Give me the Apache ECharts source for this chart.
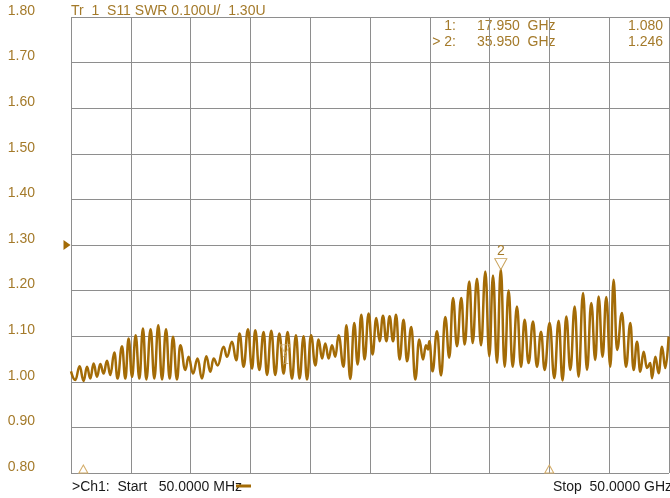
<!DOCTYPE html>
<html>
<head>
<meta charset="utf-8">
<script src="https://cdn.jsdelivr.net/npm/echarts@6/dist/echarts.min.js"></script>
<style>
html,body{margin:0;padding:0;background:#fff;}
#chart{width:670px;height:498px;}
</style>
</head>
<body>
<div id="chart"></div>
<script>
// Frequency (GHz) of each trace extremum
var freqGHz = [0.05,0.41,0.77,1.10,1.39,1.66,1.94,2.22,2.50,2.77,3.06,3.33,3.67,3.94,4.31,4.59,4.86,5.15,5.45,5.76,
6.06,6.34,6.70,7.01,7.34,7.65,7.99,8.29,8.57,8.90,9.18,9.60,9.87,10.24,10.62,10.99,11.35,11.69,11.96,12.30,
12.80,13.08,13.50,13.86,14.13,14.47,14.83,15.17,15.44,15.78,16.14,16.42,16.78,17.11,17.45,17.81,18.14,18.51,18.84,19.14,
19.48,19.76,20.10,20.46,20.73,21.02,21.29,21.57,21.85,22.13,22.40,22.82,23.05,23.38,23.71,23.99,24.30,24.57,24.91,25.24,
25.55,25.83,26.11,26.39,26.66,26.95,27.20,27.50,27.83,28.12,28.47,28.81,29.14,29.45,29.70,29.87,29.98,30.25,30.62,30.96,
31.31,31.65,31.96,32.29,32.65,32.93,33.32,33.60,33.96,34.30,34.66,34.99,35.30,35.63,35.95,36.27,36.60,36.94,37.30,37.64,
37.94,38.27,38.64,38.97,39.31,39.61,40.03,40.42,40.78,41.11,41.42,41.76,42.12,42.45,42.82,43.15,43.51,43.84,44.12,44.45,
44.76,45.10,45.37,45.66,46.07,46.41,46.77,47.04,47.33,47.60,47.88,48.16,48.44,48.58,48.86,49.13,49.42,49.69,49.97];
// SWR at each of those frequencies
var swr = [1.023,1.004,1.034,1.002,1.033,1.007,1.040,1.011,1.039,1.018,1.046,1.015,1.064,1.007,1.078,1.007,1.095,1.011,1.102,1.007,
1.117,1.005,1.115,1.007,1.124,1.005,1.115,1.007,1.099,1.005,1.080,1.026,1.055,1.018,1.051,1.007,1.056,1.022,1.051,1.036,
1.077,1.055,1.088,1.047,1.106,1.033,1.115,1.029,1.113,1.026,1.109,1.015,1.112,1.015,1.106,1.018,1.109,1.007,1.102,1.007,
1.100,1.005,1.102,1.036,1.093,1.051,1.084,1.051,1.080,1.055,1.102,1.033,1.124,1.006,1.129,1.038,1.147,1.049,1.150,1.060,
1.140,1.089,1.145,1.089,1.144,1.089,1.147,1.049,1.136,1.045,1.120,1.005,1.093,1.049,1.080,1.071,1.089,1.023,1.111,1.014,
1.142,1.053,1.184,1.078,1.184,1.082,1.220,1.085,1.226,1.080,1.242,1.056,1.233,1.042,1.246,1.033,1.200,1.033,1.165,1.033,
1.136,1.041,1.132,1.033,1.110,1.026,1.129,1.008,1.134,1.003,1.143,1.026,1.165,1.011,1.195,1.026,1.173,1.048,1.187,1.055,
1.186,1.033,1.224,1.070,1.151,1.033,1.129,1.026,1.088,1.022,1.066,1.030,1.041,1.008,1.055,1.019,1.077,1.030,1.099];
var markerFreq = [17.95, 35.95];
var markerSwr = [1.080, 1.246];
var yTicks = [0.80,0.90,1.00,1.10,1.20,1.30,1.40,1.50,1.60,1.70,1.80];
var refLevel = 1.30;
var stimFlags = [1.08, 40.0];
var startGHz = 0.05, stopGHz = 50;

var GOLD = '#a47a2a';
var TRACE = '#a36b06';
var FONT = 'Liberation Sans, Arial, sans-serif';

var chart = echarts.init(document.getElementById('chart'), null, {renderer:'canvas'});
var data = freqGHz.map(function(f,i){return [f, swr[i]];});

var mp = [];
mp.push({coord:[markerFreq[1], markerSwr[1]], symbol:'triangle', symbolRotate:180, symbolSize:[12,11], symbolOffset:[0,-5.5],
  itemStyle:{color:'rgba(255,255,255,0)', borderColor:'#c9a25a', borderWidth:1},
  label:{show:true, formatter:'2', position:'top', distance:0, color:GOLD, fontSize:14, fontFamily:FONT}});
mp.push({coord:[markerFreq[0], markerSwr[0]], symbol:'triangle', symbolRotate:180, symbolSize:[10,9], symbolOffset:[0,4],
  itemStyle:{color:'rgba(255,255,255,0)', borderColor:'rgba(210,180,120,0.7)', borderWidth:1},
  label:{show:true, formatter:'1', position:'bottom', distance:0, color:'rgba(190,160,100,0.8)', fontSize:13, fontFamily:FONT}});
mp.push({coord:[startGHz, refLevel], symbol:'triangle', symbolRotate:-90, symbolSize:[10,7], symbolOffset:[-4,0],
  itemStyle:{color:TRACE}, label:{show:false}});
stimFlags.forEach(function(f){
  mp.push({coord:[f, yTicks[0]], symbol:'triangle', symbolSize:[9,8], symbolOffset:[0,-4],
    itemStyle:{color:'rgba(255,255,255,0)', borderColor:'#d4ad6a', borderWidth:1}, label:{show:false}});
});

var option = {
  animation:false,
  backgroundColor:'#fff',
  grid:{left:71, right:1, top:17, bottom:25, containLabel:false},
  xAxis:[
    {type:'value', min:startGHz, max:stopGHz, show:false},
    {type:'value', min:0, max:10, interval:1, position:'bottom',
     axisLine:{show:false}, axisTick:{show:false}, axisLabel:{show:false},
     splitLine:{show:true, lineStyle:{color:'#8e8e8e', width:1}}}
  ],
  yAxis:{type:'value', min:yTicks[0], max:yTicks[yTicks.length-1], interval:0.1,
    axisLine:{show:false}, axisTick:{show:false},
    axisLabel:{margin:36, color:GOLD, fontSize:14, fontFamily:FONT, verticalAlign:'bottom', lineHeight:12,
      formatter:function(v){return v.toFixed(2);}},
    splitLine:{show:true, lineStyle:{color:'#8e8e8e', width:1}}},
  series:[{
    type:'line', xAxisIndex:0, data:data, showSymbol:false, smooth:0.45, smoothMonotone:'x',
    lineStyle:{color:TRACE, width:2.5}, clip:true,
    markPoint:{data:mp, animation:false}
  }],
  graphic:[
    {type:'text', left:71, top:4, style:{text:'Tr  1  S11 SWR 0.100U/  1.30U', fill:GOLD, font:'14px '+FONT}},
    {type:'text', x:456, y:26, style:{text:'1:', fill:GOLD, font:'14px '+FONT, textAlign:'right', textVerticalAlign:'middle'}},
    {type:'text', x:477, y:26, style:{text:'17.950  GHz', fill:GOLD, font:'14px '+FONT, textAlign:'left', textVerticalAlign:'middle'}},
    {type:'text', x:663, y:26, style:{text:'1.080', fill:GOLD, font:'14px '+FONT, textAlign:'right', textVerticalAlign:'middle'}},
    {type:'text', x:456, y:42, style:{text:'> 2:', fill:GOLD, font:'14px '+FONT, textAlign:'right', textVerticalAlign:'middle'}},
    {type:'text', x:477, y:42, style:{text:'35.950  GHz', fill:GOLD, font:'14px '+FONT, textAlign:'left', textVerticalAlign:'middle'}},
    {type:'text', x:663, y:42, style:{text:'1.246', fill:GOLD, font:'14px '+FONT, textAlign:'right', textVerticalAlign:'middle'}},
    {type:'text', x:72, y:487, style:{text:'>Ch1:  Start   50.0000 MHz', fill:'#1a1a1a', font:'14px '+FONT, textAlign:'left', textVerticalAlign:'middle'}},
    {type:'line', shape:{x1:236, y1:486, x2:251, y2:486}, style:{stroke:TRACE, lineWidth:3}},
    {type:'text', x:553, y:487, style:{text:'Stop  50.0000 GHz', fill:'#1a1a1a', font:'14px '+FONT, textAlign:'left', textVerticalAlign:'middle'}}
  ]
};
chart.setOption(option);
</script>
</body>
</html>
